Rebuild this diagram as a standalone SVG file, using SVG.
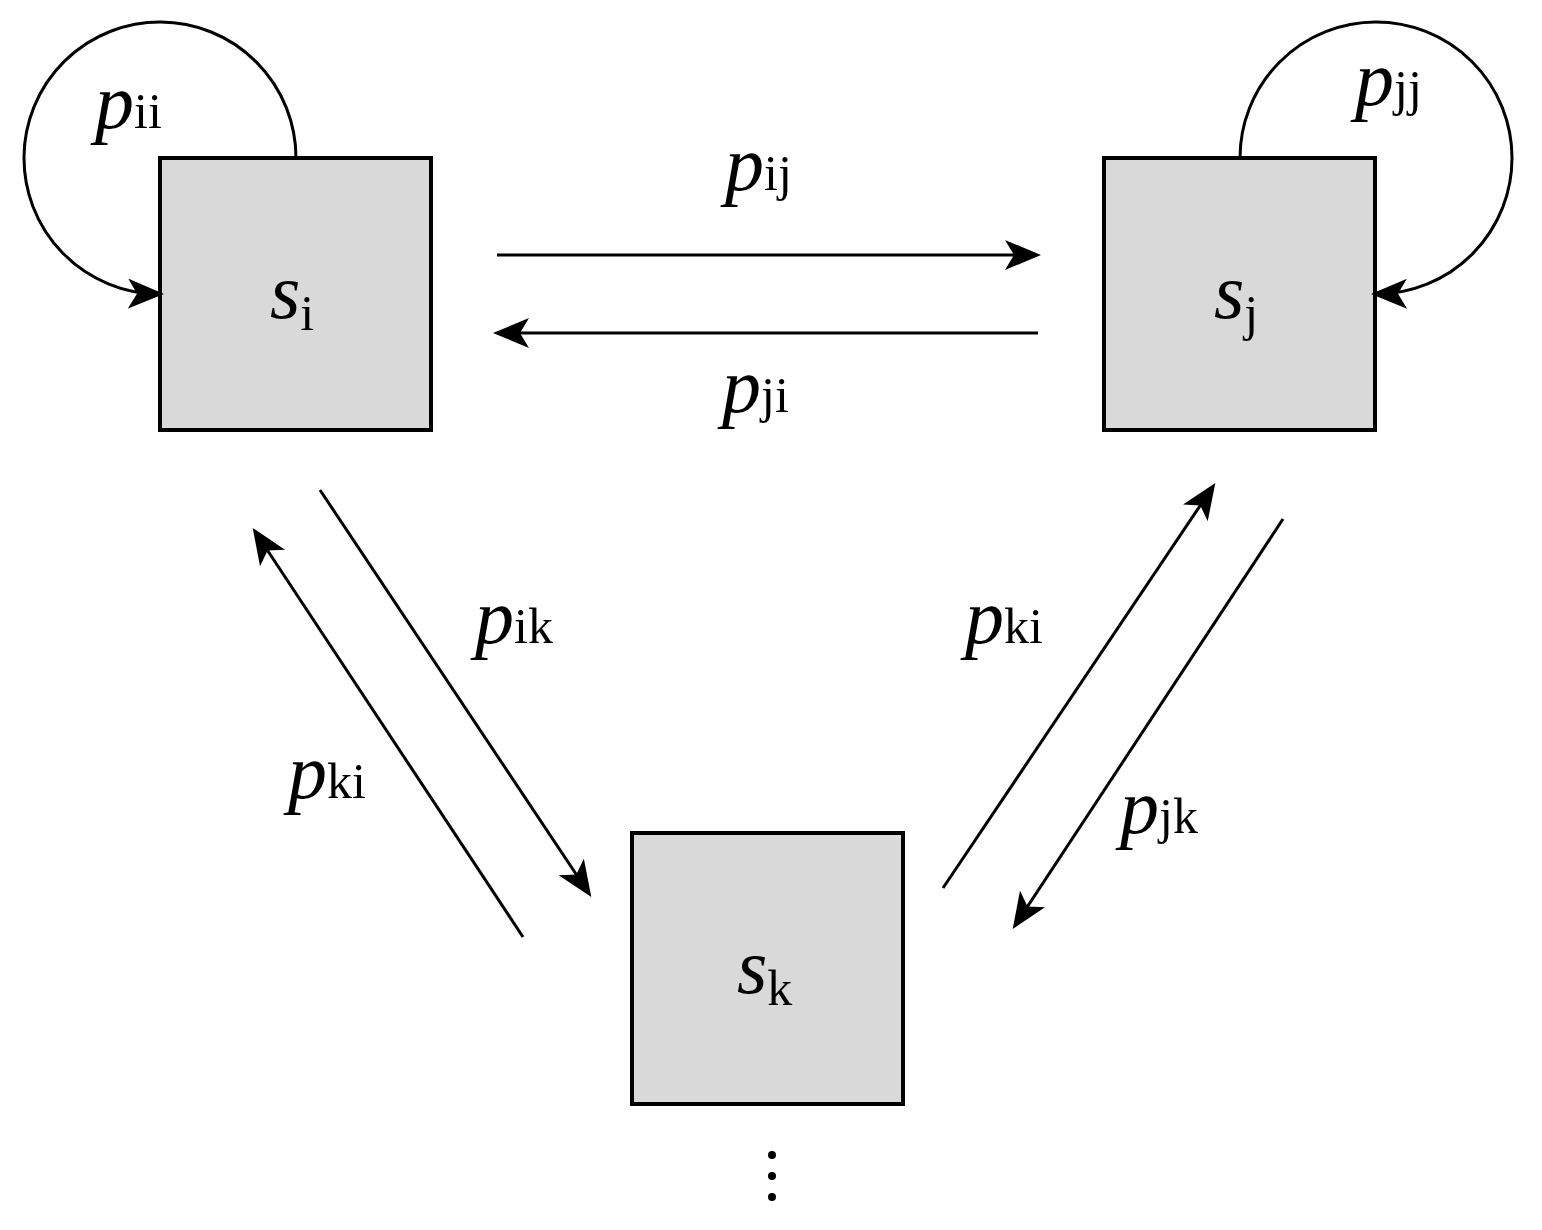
<svg xmlns="http://www.w3.org/2000/svg" width="1542" height="1230" viewBox="0 0 1542 1230">
<style>
.box{fill:#d9d9d9;stroke:#000;stroke-width:4}
.ln{fill:none;stroke:#000;stroke-width:3;marker-end:url(#ah)}
text{font-family:'Liberation Serif','Times New Roman','DejaVu Serif',serif}
.t{font-style:italic;font-size:78px}
.s{font-style:normal;font-size:50px}
</style>
<defs><marker id="ah" markerWidth="12" markerHeight="10" refX="10" refY="5" orient="auto" markerUnits="strokeWidth"><path d="M0,0 L12,5 L0,10 L3,5 Z"/></marker></defs>
<rect width="1542" height="1230" fill="#fff"/>
<g id="si"><rect class="box" x="160" y="158" width="271" height="272"/><text class="t" x="270" y="318">s<tspan class="s" dy="12">i</tspan></text></g>
<g id="sj"><rect class="box" x="1104" y="158" width="271" height="272"/><text class="t" x="1214" y="318">s<tspan class="s" dy="12">j</tspan></text></g>
<g id="sk"><rect class="box" x="632" y="833" width="271" height="271"/><text class="t" x="737" y="993">s<tspan class="s" dy="12">k</tspan></text></g>
<g id="connectors">
<path class="ln" d="M296,158 A136,136 0 1 0 158,294"/>
<path class="ln" d="M1240,158 A136,136 0 1 1 1377,294"/>
<line class="ln" x1="497" y1="255" x2="1035" y2="255"/>
<line class="ln" x1="1038" y1="333" x2="499" y2="333"/>
<line class="ln" x1="320" y1="490" x2="588" y2="892"/>
<line class="ln" x1="523" y1="937" x2="256" y2="533"/>
<line class="ln" x1="943" y1="888" x2="1212" y2="488"/>
<line class="ln" x1="1283" y1="519" x2="1016" y2="924"/>
</g>
<g id="labels">
<text class="t" x="95" y="128">p<tspan class="s">ii</tspan></text>
<text class="t" x="725" y="190">p<tspan class="s">ij</tspan></text>
<text class="t" x="722" y="412">p<tspan class="s">ji</tspan></text>
<text class="t" x="1355" y="105">p<tspan class="s">jj</tspan></text>
<text class="t" x="475" y="643">p<tspan class="s">ik</tspan></text>
<text class="t" x="965" y="643">p<tspan class="s">ki</tspan></text>
<text class="t" x="288" y="798">p<tspan class="s">ki</tspan></text>
<text class="t" x="1120" y="833">p<tspan class="s">jk</tspan></text>
</g>
<g id="dots"><circle cx="772" cy="1155" r="4"/><circle cx="772" cy="1176" r="4"/><circle cx="772" cy="1197" r="4"/></g>
</svg>
